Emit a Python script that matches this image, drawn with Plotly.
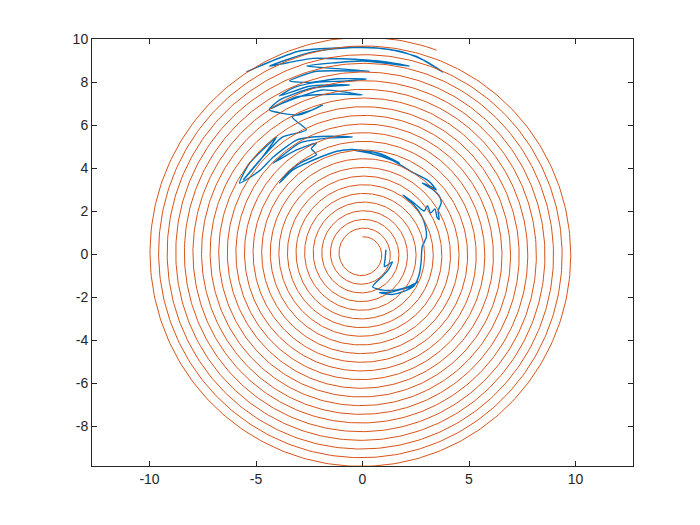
import numpy as np
import plotly.graph_objects as go

# Spiral description (clockwise outward)
spiral_start_radius = 0.8
spiral_end_radius = 10.1
spiral_start_angle_deg = 90.0
spiral_total_turns = 23.056

# Blue trajectory points, in drawing order
path_pts = [
    (1.10, 0.20), (1.06, -0.25), (1.03, -0.59), (1.40, -0.37), (1.20, -0.75), (0.90, -1.07),
    (0.60, -1.35), (0.47, -1.53), (0.95, -1.68), (1.60, -1.67), (2.15, -1.52), (2.60, -1.30),
    (2.20, -1.55), (1.90, -1.62), (1.30, -1.78), (0.80, -1.80), (1.40, -1.88), (1.90, -1.75),
    (2.40, -1.50), (2.65, -1.00), (2.75, -0.40), (2.80, 0.33), (3.00, 0.80), (2.95, 1.30),
    (2.80, 1.72), (2.40, 2.30), (1.90, 2.74), (2.45, 2.35), (2.90, 2.00), (3.05, 2.25),
    (3.20, 1.90), (3.40, 2.10), (3.50, 1.70), (3.60, 1.60), (3.55, 2.00), (3.70, 2.40),
    (3.60, 2.70), (3.30, 3.00), (2.80, 3.30), (3.20, 3.15), (3.47, 2.98), (3.10, 3.40),
    (2.35, 3.80), (1.40, 4.35), (0.33, 4.70), (-0.47, 4.84), (0.60, 4.72), (1.20, 4.50),
    (1.74, 4.23), (0.80, 4.68), (-0.47, 4.86), (-1.20, 4.78), (-2.00, 4.50), (-2.63, 4.23),
    (-3.29, 3.90), (-3.90, 3.30), (-3.50, 3.80), (-2.90, 4.25), (-2.16, 4.62), (-2.40, 4.90),
    (-2.16, 5.16), (-3.10, 4.84), (-4.20, 4.23), (-3.60, 4.70), (-2.96, 5.16), (-1.55, 5.40),
    (-0.47, 5.44), (-1.50, 5.48), (-2.35, 5.44), (-3.10, 5.30), (-4.20, 4.50), (-4.80, 3.90),
    (-5.77, 3.30), (-5.30, 4.23), (-4.70, 4.84), (-4.04, 5.44), (-4.70, 4.50), (-5.60, 3.44),
    (-4.70, 4.50), (-3.76, 5.44), (-2.63, 5.77), (-3.30, 6.37), (-2.35, 6.70), (-1.88, 6.93),
    (-2.96, 6.47), (-4.37, 6.70), (-3.10, 7.26), (-1.88, 7.63), (0.00, 7.40), (-1.08, 7.44),
    (-3.10, 7.30), (-4.37, 6.74), (-3.90, 7.16), (-2.35, 7.72), (-0.60, 7.86), (-1.50, 7.86),
    (-2.50, 7.80), (-3.90, 7.35), (-3.20, 7.75), (-2.20, 7.98), (-0.75, 8.05), (0.19, 8.14),
    (-1.20, 8.15), (-2.40, 7.98), (-3.43, 8.05), (-2.16, 8.50), (0.33, 8.50), (-1.20, 8.62),
    (-2.63, 8.74), (0.00, 8.98), (2.20, 8.74), (1.00, 8.95), (-1.00, 9.08), (-2.35, 9.10),
    (-4.37, 8.74), (-2.35, 9.40), (0.00, 9.63), (1.88, 9.40), (3.00, 8.95), (3.76, 8.47),
    (2.50, 9.20), (1.00, 9.55), (-1.00, 9.60), (-2.96, 9.44), (-4.37, 8.93), (-5.45, 8.47),
]
path_x = [p[0] for p in path_pts]
path_y = [p[1] for p in path_pts]

x_ticks = [-10, -5, 0, 5, 10]
x_tick_labels = ["-10", "-5", "0", "5", "10"]
y_ticks = [-8, -6, -4, -2, 0, 2, 4, 6, 8, 10]
y_tick_labels = ["-8", "-6", "-4", "-2", "0", "2", "4", "6", "8", "10"]

phi = np.linspace(0, 2 * np.pi * spiral_total_turns, 8000)
r = spiral_start_radius + (spiral_end_radius - spiral_start_radius) * phi / phi[-1]
theta = np.deg2rad(spiral_start_angle_deg) - phi
sx = r * np.cos(theta)
sy = r * np.sin(theta)

fig = go.Figure()
fig.add_trace(go.Scatter(x=path_x, y=path_y, mode="lines",
                         line=dict(color="#0072BD", width=1.4, shape="spline", smoothing=0.6),
                         showlegend=False))
fig.add_trace(go.Scatter(x=sx, y=sy, mode="lines",
                         line=dict(color="#D95319", width=1), showlegend=False))

axis_common = dict(showgrid=False, zeroline=False, showline=True, linecolor="#262626", linewidth=1,
                   mirror="allticks", ticks="inside", ticklen=5, tickcolor="#262626",
                   tickfont=dict(family="Liberation Sans, Arial", size=14, color="#262626"))
fig.update_xaxes(range=[-12.7, 12.7], tickvals=x_ticks, ticktext=x_tick_labels, **axis_common)
fig.update_yaxes(range=[-9.86, 10.0], tickvals=y_ticks, ticktext=y_tick_labels, **axis_common)
fig.update_layout(width=700, height=525, margin=dict(l=84, r=75, t=31, b=67),
                  plot_bgcolor="white", paper_bgcolor="white")
fig.write_html("out.html")
